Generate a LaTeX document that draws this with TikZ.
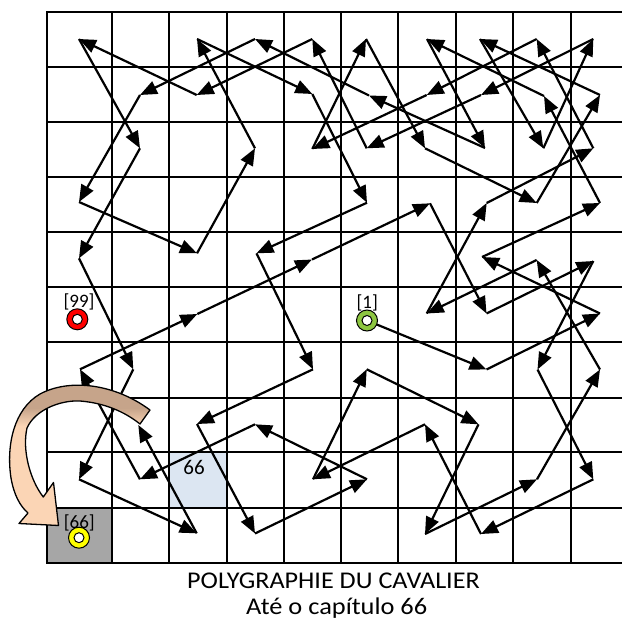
\documentclass[tikz,border=0pt]{standalone}
\usepackage{fontspec}
\setmainfont{Carlito}
\usepackage{graphicx}
\usetikzlibrary{arrows.meta}
\definecolor{tanc}{HTML}{C6A48A}
\definecolor{peach}{HTML}{FBD5B5}
\definecolor{cellgray}{HTML}{A6A6A6}
\definecolor{cellblue}{HTML}{DCE6F2}
\definecolor{ringgreen}{HTML}{8DC641}
\definecolor{ringred}{HTML}{FF0000}
\definecolor{ringyellow}{HTML}{FFFF00}
\newcommand{\bigarrowpath}{(150,410) .. controls (115,384) and (70,378) .. (40,394) .. controls (14,409) and (6,445) .. (11,478) .. controls (14,495) and (20,506) .. (28,513) -- (19,523.5) -- (58.5,525.5) -- (53.5,482.5) -- (43.3,497) .. controls (30,480) and (22,450) .. (27,428) .. controls (35,410) and (60,400) .. (80,401) .. controls (105,403) and (125,412) .. (140,424) -- cycle}
\begin{document}
\begin{tikzpicture}[x=1pt,y=-1pt,
  mv/.style={line width=2.2pt,-{Triangle[length=17pt,width=13.5pt]}},
  gridln/.style={line width=2.1pt,line cap=rect},
  lbl/.style={font=\fontsize{19}{20}\selectfont,inner sep=0pt},
  ring/.style={line width=1pt}]
\useasboundingbox (0,0) rectangle (621,628);
% special cells
\fill[cellgray] (47.3,507.7) rectangle (111.7,563.3);
\fill[cellblue] (169,452.3) rectangle (226.7,507.7);
% grid
\foreach \x in {47.3,111.7,169,226.7,284.3,340.7,398.3,455.7,513.3,571}
  \draw[gridln] (\x,11.7) -- (\x,563.3);
\foreach \y in {11.7,66.7,121.7,177.3,232.3,287.3,342.3,397.7,452.3,507.7,563.3}
  \draw[gridln] (47.3,\y) -- (621,\y);
\node[font=\fontsize{21}{22}\selectfont,inner sep=0pt] (t66) at (194,467) {66};
% tour vertices
\coordinate (p1) at (367,320.5);
\coordinate (p2) at (486.5,369.5);
\coordinate (p3) at (600,313.5);
\coordinate (p4) at (482,257);
\coordinate (p5) at (600,203);
\coordinate (p6) at (544,96);
\coordinate (p7) at (427,39);
\coordinate (p8) at (485,148);
\coordinate (p9) at (369,95.5);
\coordinate (p10) at (255,39);
\coordinate (p11) at (140,95);
\coordinate (p12) at (79,202);
\coordinate (p13) at (197,253.3);
\coordinate (p14) at (255,148.3);
\coordinate (p15) at (197,39);
\coordinate (p16) at (312.3,94);
\coordinate (p17) at (367,202.7);
\coordinate (p18) at (256.5,253.3);
\coordinate (p19) at (313,369.3);
\coordinate (p20) at (197,424);
\coordinate (p21) at (255,533.5);
\coordinate (p22) at (367,479.3);
\coordinate (p23) at (255,424.3);
\coordinate (p24) at (140,479.3);
\coordinate (p25) at (80,369.3);
\coordinate (p26) at (197.3,314);
\coordinate (p27) at (312,259.5);
\coordinate (p28) at (430,203.3);
\coordinate (p29) at (486.5,313.5);
\coordinate (p30) at (593.3,261);
\coordinate (p31) at (537.5,369.5);
\coordinate (p32) at (593.3,479.3);
\coordinate (p33) at (481,534);
\coordinate (p34) at (425,424.3);
\coordinate (p35) at (313,479.3);
\coordinate (p36) at (366.7,369.3);
\coordinate (p37) at (478.5,424.3);
\coordinate (p38) at (425,534);
\coordinate (p39) at (537,479.3);
\coordinate (p40) at (600,369.5);
\coordinate (p41) at (536.7,260);
\coordinate (p42) at (426.7,313.5);
\coordinate (p43) at (486.7,203);
\coordinate (p44) at (593.3,148.3);
\coordinate (p45) at (536.7,39);
\coordinate (p46) at (426.7,95);
\coordinate (p47) at (312.3,149);
\coordinate (p48) at (366,39);
\coordinate (p49) at (425,148.3);
\coordinate (p50) at (536.7,203);
\coordinate (p51) at (600,95);
\coordinate (p52) at (480,39);
\coordinate (p53) at (543.3,148.3);
\coordinate (p54) at (593.3,39);
\coordinate (p55) at (481,95);
\coordinate (p56) at (366.7,148.3);
\coordinate (p57) at (312.3,39);
\coordinate (p58) at (196.7,95);
\coordinate (p59) at (79,39);
\coordinate (p60) at (140,148.3);
\coordinate (p61) at (79,258.3);
\coordinate (p62) at (133.3,369.3);
\coordinate (p63) at (79,479.3);
\coordinate (p64) at (196.7,533.3);
\coordinate (p65) at (138.3,425);
\foreach \i in {1,...,64}{
  \pgfmathtruncatemacro{\j}{\i+1}
  \draw[mv] (p\i) -- (p\j);
}
% curved block arrow to the corner
\begin{scope}
  \clip \bigarrowpath;
  \fill[tanc] (0,370) rectangle (160,408);
  \shade[top color=tanc,bottom color=peach] (0,408) rectangle (160,426);
  \fill[peach] (0,426) rectangle (160,540);
\end{scope}
\draw[line width=1.3pt,line join=round] \bigarrowpath;
% rings
\coordinate (c99) at (77.3,319.3);
\coordinate (c66) at (79,537.7);
\fill[ringred] (c99) circle (10.5pt);
\draw[ring] (c99) circle (10.5pt);
\draw[ring,fill=white] (c99) circle (5pt);
\fill[ringgreen] (p1) circle (10.5pt);
\draw[ring] (p1) circle (10.5pt);
\draw[ring,fill=white] (p1) circle (5pt);
\fill[ringyellow] (c66) circle (10.5pt);
\draw[ring] (c66) circle (10.5pt);
\draw[ring,fill=white] (c66) circle (5pt);
% labels
\node[lbl] (l99) at (79,301.5) {[99]};
\node[lbl] (l1) at (367.3,302.5) {[1]};
\node[lbl] (l66) at (79.3,523) {[66]};
% caption
\node[font=\fontsize{24}{25}\selectfont,anchor=base,inner sep=0pt] (title) at (333.5,588.5) {\scalebox{1.09}[1]{POLYGRAPHIE DU CAVALIER}};
\node[font=\fontsize{24}{25}\selectfont,anchor=base,inner sep=0pt] (sub) at (336.7,614.5) {\scalebox{1.1}[1]{Até o capítulo 66}};
\end{tikzpicture}
\end{document}
